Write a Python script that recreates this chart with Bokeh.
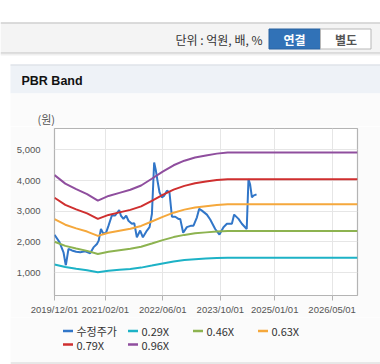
import pandas as pd
from bokeh.plotting import figure
from bokeh.models import (Range1d, FixedTicker, DatetimeTickFormatter, ColumnDataSource,
                          Spacer, NumeralTickFormatter)
from bokeh.layouts import column, row
from bokeh.core.properties import value
from bokeh.embed import file_html
from bokeh.resources import INLINE

# ---------------- data ----------------
price_dates = ["2019-12-01", "2020-01-12", "2020-02-15", "2020-03-03", "2020-03-06", "2020-03-28",
               "2020-04-26", "2020-06-01", "2020-07-05", "2020-08-16", "2020-09-27", "2020-10-25",
               "2020-11-23", "2020-12-08", "2020-12-27", "2021-01-17", "2021-02-09", "2021-03-01",
               "2021-03-29", "2021-04-26", "2021-05-30", "2021-06-13", "2021-07-05", "2021-07-28",
               "2021-08-16", "2021-09-14", "2021-10-04", "2021-10-26", "2021-11-23", "2021-12-16",
               "2022-01-19", "2022-02-10", "2022-03-02", "2022-03-21", "2022-04-05", "2022-04-18",
               "2022-05-05", "2022-05-25", "2022-06-14", "2022-07-07", "2022-07-28", "2022-08-18",
               "2022-09-15", "2022-10-12", "2022-10-27", "2022-11-21", "2022-12-22", "2023-01-28",
               "2023-02-16", "2023-03-17", "2023-04-05", "2023-04-28", "2023-06-09", "2023-07-07",
               "2023-08-18", "2023-09-23", "2023-10-27", "2023-11-25", "2024-01-06", "2024-01-25",
               "2024-03-02", "2024-03-30", "2024-05-10", "2024-05-25", "2024-06-08", "2024-06-23",
               "2024-07-06", "2024-08-01"]
price_values = [2230, 1990, 1660, 1280, 1240, 1770,
                1720, 1680, 1660, 1690, 1630, 1820,
                1930, 2040, 2420, 2260, 2310, 2530,
                2860, 2860, 3040, 2860, 2750, 2860,
                2690, 2590, 2610, 2150, 2370, 2150,
                2370, 2480, 2910, 4590, 4320, 4000,
                3620, 3450, 3510, 3670, 3620, 2820,
                2820, 2750, 2750, 2300, 2480, 2530,
                2530, 2800, 3080, 3020, 2890, 2730,
                2420, 2240, 2480, 2590, 2590, 2890,
                2750, 2590, 2420, 4050, 3870, 3450,
                3510, 3550]

band_dates = ["2019-12-01", "2020-03-01", "2020-06-01", "2020-09-01", "2020-12-01", "2021-03-01",
              "2021-06-01", "2021-09-01", "2021-12-01", "2022-03-01", "2022-06-01", "2022-09-01",
              "2022-12-01", "2023-03-01", "2023-06-01", "2023-09-01", "2023-12-01", "2026-12-01"]
band_029 = [1263, 1178, 1124, 1075, 1010, 1057, 1088, 1118, 1160, 1226, 1296, 1360, 1405, 1436, 1456, 1474, 1486, 1486]
band_046 = [2003, 1869, 1783, 1706, 1603, 1677, 1725, 1773, 1840, 1945, 2056, 2156, 2228, 2278, 2310, 2338, 2357, 2357]
band_063 = [2743, 2560, 2441, 2336, 2195, 2297, 2363, 2428, 2520, 2664, 2815, 2953, 3052, 3120, 3163, 3202, 3227, 3227]
band_079 = [3440, 3210, 3061, 2929, 2752, 2880, 2963, 3045, 3160, 3341, 3531, 3704, 3827, 3913, 3967, 4016, 4047, 4047]
band_096 = [4180, 3900, 3720, 3560, 3345, 3500, 3600, 3700, 3840, 4060, 4290, 4500, 4650, 4755, 4820, 4880, 4918, 4918]

series_names = ["수정주가", "0.29X", "0.46X", "0.63X", "0.79X", "0.96X"]
series_colors = ["#3176c8", "#1db2c6", "#8db350", "#f5a83c", "#cf2f2f", "#8f4e9e"]

x_tick_dates = ["2019-12-01", "2021-02-01", "2022-06-01", "2023-10-01", "2025-01-01", "2026-05-01"]
y_ticks = [1000, 2000, 3000, 4000, 5000]
x_start, x_end = "2019-12-01", "2026-12-01"
y_start, y_end = 250, 5700

unit_text = "단위 : 억원, 배, %"
btn_labels = ["연결", "별도"]
panel_title = "PBR Band"
y_unit = "(원)"

KFONT = "Noto Sans CJK KR"
LFONT = "Liberation Sans"
PANEL_BG = "#fbfbfb"

# ---------------- top header (incl. unit label above plot) ----------------
TOP_H = 126
top = figure(width=380, height=TOP_H, x_range=Range1d(0, 380), y_range=Range1d(TOP_H, 0),
             toolbar_location=None, output_backend="svg", min_border=0,
             x_axis_location=None, y_axis_location=None)
top.grid.visible = False
top.outline_line_color = None
top.background_fill_color = "white"
top.border_fill_color = "white"

top.quad(left=0, right=380, top=22, bottom=52.5, fill_color="#f4f4f4", line_color=None)
top.segment(x0=[0], y0=[22.5], x1=[380], y1=[22.5], line_color="#bdbdbd", line_width=1)
top.segment(x0=[0, 0, 0], y0=[52.5, 53.5, 54.5], x1=[380, 380, 380], y1=[52.5, 53.5, 54.5],
            line_color=["#c2c2c2", "#dedede", "#f0f0f0"], line_width=1)
top.text(x=[262], y=[39], text=[unit_text], text_align="right", text_baseline="middle",
         text_font=value(KFONT), text_font_size="12px", text_color="#333333")
top.quad(left=[268.5], right=[320], top=[28.5], bottom=[48.5], fill_color="#3172b7",
         line_color="#2a62a0", line_width=1)
top.quad(left=[320], right=[370.5], top=[28.5], bottom=[48.5], fill_color="white",
         line_color="#b8b8b8", line_width=1)
top.text(x=[294, 345.5], y=[38.5, 38.5], text=btn_labels, text_align="center",
         text_baseline="middle", text_font=value(KFONT), text_font_size="12px",
         text_font_style="bold", text_color=["white", "#555555"])

top.quad(left=[10], right=[380], top=[64], bottom=[93], fill_color="#eef2f7", line_color=None)
top.quad(left=[10], right=[380], top=[93], bottom=[TOP_H], fill_color=PANEL_BG, line_color=None)
top.segment(x0=[10], y0=[64.5], x1=[380], y1=[64.5], line_color="#d8dce2", line_width=1)
top.text(x=[21], y=[80], text=[panel_title], text_align="left", text_baseline="middle",
         text_font=value(LFONT), text_font_size="12.5px", text_font_style="bold",
         text_color="#111111")
top.text(x=[37], y=[118.5], text=[y_unit], text_align="left", text_baseline="middle",
         text_font=value(KFONT), text_font_size="11px", text_color="#555555")

# ---------------- chart ----------------
xs0, xs1 = pd.Timestamp(x_start), pd.Timestamp(x_end)
p = figure(width=370, height=191, x_axis_type="datetime",
           x_range=Range1d(xs0, xs1), y_range=Range1d(y_start, y_end),
           toolbar_location=None, output_backend="svg",
           min_border_left=44, min_border_right=23, min_border_top=2, min_border_bottom=22)
p.background_fill_color = "white"
p.border_fill_color = PANEL_BG
p.outline_line_color = "#b4b4b4"
p.outline_line_width = 1.2

price_src = ColumnDataSource(dict(x=pd.to_datetime(price_dates), y=price_values))
p.line("x", "y", source=price_src, line_color=series_colors[0], line_width=2)

band_src = ColumnDataSource(dict(x=pd.to_datetime(band_dates), b029=band_029, b046=band_046,
                                 b063=band_063, b079=band_079, b096=band_096))
for col, c in zip(["b029", "b046", "b063", "b079", "b096"], series_colors[1:]):
    p.line("x", col, source=band_src, line_color=c, line_width=2)

tick_ts = pd.to_datetime(x_tick_dates)
tick_ms = [t.value / 1e6 for t in tick_ts]
p.xaxis.ticker = FixedTicker(ticks=tick_ms)
fmt = "%Y/%m/%d"
p.xaxis.formatter = DatetimeTickFormatter(microseconds=fmt, milliseconds=fmt, seconds=fmt,
                                          minsec=fmt, minutes=fmt, hourmin=fmt, hours=fmt,
                                          days=fmt, months=fmt, years=fmt)
p.yaxis.ticker = FixedTicker(ticks=y_ticks)
p.yaxis.formatter = NumeralTickFormatter(format="0,0")

for ax in (p.xaxis[0], p.yaxis[0]):
    ax.axis_line_color = None
    ax.minor_tick_line_color = None
    ax.major_label_text_font = LFONT
    ax.major_label_text_font_size = "9.5px"
    ax.major_label_text_color = "#555555"
p.xaxis.major_tick_line_color = "#b4b4b4"
p.xaxis.major_tick_in = 0
p.xaxis.major_tick_out = 5
p.xaxis.major_label_standoff = 3
p.yaxis.major_tick_line_color = None
p.yaxis.major_label_standoff = 8

p.xgrid.grid_line_color = "#e6e6e6"
p.ygrid.grid_line_color = "#e6e6e6"

# ---------------- legend ----------------
lg = figure(width=370, height=47, x_range=Range1d(0, 370), y_range=Range1d(47, 0),
            toolbar_location=None, output_backend="svg", min_border=0,
            x_axis_location=None, y_axis_location=None)
lg.grid.visible = False
lg.outline_line_color = None
lg.background_fill_color = PANEL_BG
lg.border_fill_color = PANEL_BG
cols = [i % 4 for i in range(len(series_names))]
rows_ = [i // 4 for i in range(len(series_names))]
lx = [52.5 + 65 * c for c in cols]
ly = [13.5 + 13.5 * r for r in rows_]
lg.segment(x0=lx, y0=ly, x1=[v + 10 for v in lx], y1=ly, line_color=series_colors, line_width=2.5)
lg.text(x=[v + 13.5 for v in lx], y=ly, text=series_names, text_align="left",
        text_baseline="middle", text_font=value(KFONT), text_font_size="11px",
        text_color="#333333")
lg.segment(x0=[0], y0=[45.5], x1=[370], y1=[45.5], line_color="#d4d4d4", line_width=1)

layout = column(top,
                row(Spacer(width=10, height=191), p),
                row(Spacer(width=10, height=47), lg))

open("out.html", "w").write(file_html(layout, INLINE))
